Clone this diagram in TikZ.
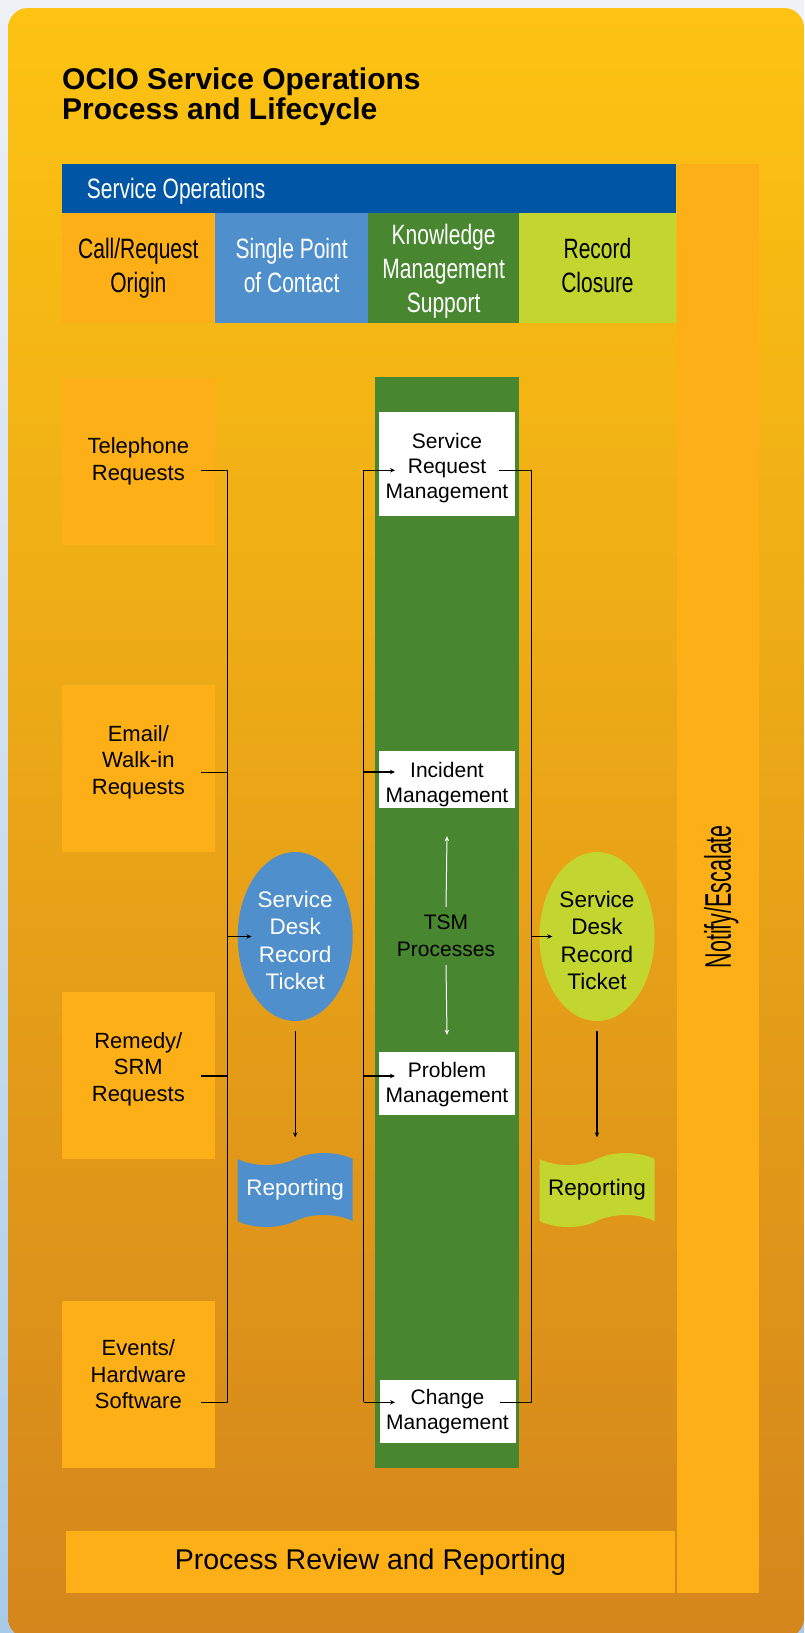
\documentclass[tikz,border=0pt]{standalone}
\usepackage{fontspec}
\setmainfont{Liberation Sans}
\newfontfamily\condfont[FakeStretch=0.75]{Liberation Sans}
\newfontfamily\slimfont[FakeStretch=0.58]{Liberation Sans}
\usetikzlibrary{shapes.geometric,shapes.symbols,arrows.meta}
\definecolor{ocioPageTop}{HTML}{EFF1F6}
\definecolor{ocioPageBottom}{HTML}{A9CBE8}
\definecolor{ocioPanelTop}{HTML}{FDC312}
\definecolor{ocioPanelBottom}{HTML}{D5861C}
\definecolor{ocioBoxOrange}{HTML}{FCAF17}
\definecolor{ocioOpsBlue}{HTML}{0055A4}
\definecolor{ocioContactBlue}{HTML}{4F8FCC}
\definecolor{ocioKnowledgeGreen}{HTML}{48862F}
\definecolor{ocioClosureGreen}{HTML}{C2D62F}

\begin{document}
\begin{tikzpicture}[x=1pt,y=-1pt,
        >={Stealth[length=5pt,width=4.5pt]},
        wire/.style={line width=1.1pt},
        whitewire/.style={white,line width=1pt},
        hdrbox/.style={minimum height=110.6pt,inner sep=0,align=center,text depth=5.9pt,font=\condfont\fontsize{28}{34}\selectfont},
        srcbox/.style={fill=ocioBoxOrange,minimum width=153.3pt,minimum height=167pt,inner sep=0,align=center,font=\fontsize{22}{26.5}\selectfont},
        procbox/.style={fill=white,minimum width=136pt,inner sep=0,align=center,font=\fontsize{21}{25}\selectfont},
        deskoval/.style={ellipse,minimum width=115pt,minimum height=169pt,inner sep=0,align=center,text height=106pt,font=\fontsize{22.5}{27.3}\selectfont},
        rptflag/.style={tape,tape bend height=12pt,minimum width=115pt,minimum height=74pt,inner sep=0,font=\fontsize{22.5}{27}\selectfont}]
            \useasboundingbox (0,0) rectangle (804,1633);
            \shade[top color=ocioPageTop,bottom color=ocioPageBottom] (0,0) rectangle (804,1633);
            \shade[top color=ocioPanelTop,bottom color=ocioPanelBottom,rounded corners=20pt] (8,8) rectangle (804,1638);

            \node[anchor=north west,align=left,inner sep=0,font=\bfseries\fontsize{30}{30.5}\selectfont] (title) at (62,67.5) {OCIO Service Operations\\Process and Lifecycle};
            \node[anchor=north west,fill=ocioOpsBlue,text=white,minimum height=48.7pt,text width=564.3pt,inner xsep=25pt,inner ysep=0,align=flush left,text depth=0pt,font=\condfont\fontsize{28}{28}\selectfont] (ops) at (61.7,164) {Service Operations};
            \node[hdrbox,fill=ocioBoxOrange,minimum width=153.3pt] (origin) at (138.35,268) {Call/Request\\Origin};
            \node[hdrbox,fill=ocioContactBlue,text=white,minimum width=153.3pt] (contact) at (291.65,268) {Single Point\\of Contact};
            \node[hdrbox,fill=ocioKnowledgeGreen,text=white,minimum width=150.7pt,text depth=0pt] (knowledge) at (443.65,268) {Knowledge\\Management\\Support};
            \node[hdrbox,fill=ocioClosureGreen,minimum width=157pt] (closure) at (597.5,268) {Record\\Closure};

            \node[fill=ocioBoxOrange,minimum width=81.7pt,minimum height=1429.3pt,inner sep=0] (notify) at (718.15,878.65) {};
            \node[rotate=90,inner sep=0,font=\slimfont\fontsize{37}{37}\selectfont] (notifytext) at (721.4,896.7) {Notify/Escalate};

            \node[srcbox,text depth=4.6pt] (phone) at (138.35,461.5) {Telephone\\Requests};
            \node[srcbox,text depth=18pt] (email) at (138.35,768.8) {Email/\\Walk-in\\Requests};
            \node[srcbox,text depth=16pt] (remedy) at (138.35,1075) {Remedy/\\SRM\\Requests};
            \node[srcbox,text depth=19pt] (events) at (138.35,1384) {Events/\\Hardware\\Software};

            \node[fill=ocioKnowledgeGreen,minimum width=144pt,minimum height=1091pt,inner sep=0] (tsmlane) at (447,922.5) {};
            \node[inner sep=8pt,align=center,font=\fontsize{21}{27}\selectfont] (tsm) at (446,936) {TSM\\Processes};
            \node[procbox,minimum height=104pt,text height=73.3pt] (request) at (447,463.7) {Service\\Request\\Management};
            \node[procbox,minimum height=57pt,text height=51.3pt] (incident) at (447,779.5) {Incident\\Management};
            \node[procbox,minimum height=63pt,text height=43.3pt] (problem) at (447,1083.5) {Problem\\Management};
            \node[procbox,minimum height=63pt] (change) at (447.5,1411.5) {Change\\Management};

            \node[deskoval,fill=ocioContactBlue,text=white] (deskin) at (295.2,936.5) {Service\\Desk\\Record\\Ticket};
            \node[deskoval,fill=ocioClosureGreen] (deskout) at (597,936.5) {Service\\Desk\\Record\\Ticket};
            \node[rptflag,fill=ocioContactBlue,text=white] (reportin) at (295.2,1190) {Reporting};
            \node[rptflag,fill=ocioClosureGreen] (reportout) at (597,1190) {Reporting};

            \node[fill=ocioBoxOrange,minimum width=609pt,minimum height=62.3pt,inner sep=0,font=\fontsize{28.5}{28.5}\selectfont] (review) at (370.5,1562.2) {Process Review and Reporting};

            \coordinate (busL) at (227.7,0);
            \coordinate (busM) at (363.7,0);
            \coordinate (busR) at (531.3,0);
            \coordinate (phone-out) at (201,470.3);
            \coordinate (email-out) at (201,772.7);
            \coordinate (remedy-out) at (201,1076);
            \coordinate (events-out) at (201,1402.3);
            \coordinate (request-in) at (395,470.3);
            \coordinate (incident-in) at (395,772);
            \coordinate (problem-in) at (395,1076);
            \coordinate (change-in) at (395,1402.3);
            \coordinate (request-out) at (499,470.3);
            \coordinate (change-out) at (500,1402.3);

            \draw[wire] (phone-out) -| (events-out -| busL) -- (events-out);
            \draw[wire] (email-out) -- (email-out -| busL);
            \draw[wire] (remedy-out) -- (remedy-out -| busL);
            \draw[wire,->] (deskin.west -| busL) -- ([xshift=14pt]deskin.west);
            \draw[wire] (request-in -| busM) -- (change-in -| busM);
            \foreach \lane in {request,incident,problem,change}
                \draw[wire,->] (\lane-in -| busM) -- (\lane-in);
            \draw[wire] (request-out) -| (change-out -| busR) -- (change-out);
            \draw[wire,->] (deskout.west -| busR) -- ([xshift=13pt]deskout.west);
            \draw[wire,->] ([yshift=-10pt]deskin.south) -- ([yshift=21.5pt]reportin.north);
            \draw[wire,->] ([yshift=-10pt]deskout.south) -- ([yshift=21.5pt]reportout.north);
            \draw[whitewire,->] (tsm.north) -- ([yshift=-28pt]incident.south);
            \draw[whitewire,->] (tsm.south) -- ([yshift=17pt]problem.north);
        \end{tikzpicture}
\end{document}
